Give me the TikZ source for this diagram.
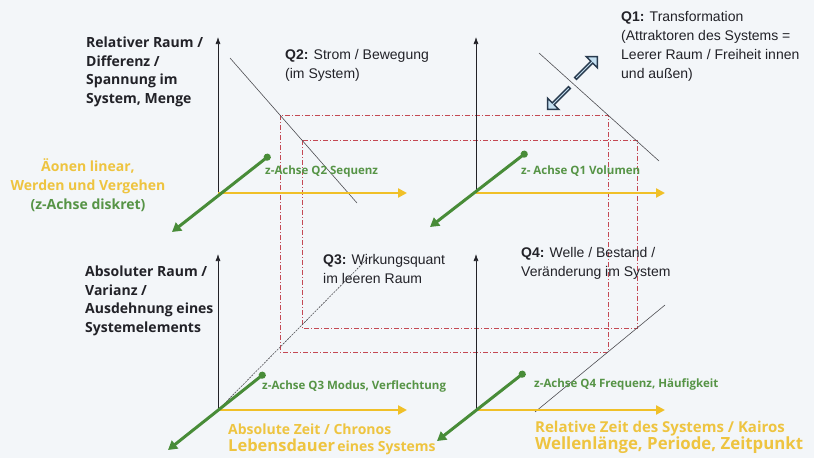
\documentclass[tikz,border=0pt]{standalone}
\usepackage{fontspec}
\setmainfont{Open Sans}
\newfontfamily\qfont{Liberation Sans}
\usetikzlibrary{calc,shapes.arrows,arrows.meta}
\definecolor{axisYellow}{RGB}{240,192,40}
\definecolor{textYellow}{RGB}{238,196,64}
\definecolor{axisGreen}{RGB}{72,140,56}
\definecolor{textGreen}{RGB}{86,148,70}
\definecolor{boxRed}{RGB}{196,72,84}
\definecolor{bgGray}{RGB}{243,246,249}
\definecolor{darkText}{RGB}{34,34,40}
\definecolor{arrowBlue}{RGB}{196,224,242}
\definecolor{arrowEdge}{RGB}{40,58,78}

\begin{document}
\begin{tikzpicture}[x=1pt,y=-1pt,
  axislabel/.style={anchor=north west,align=left,inner sep=0pt,text=darkText,
    font=\bfseries\fontsize{14}{18.5}\selectfont},
  qlabel/.style={anchor=north west,align=left,inner sep=0pt,text=darkText,
    font=\qfont\fontsize{14}{19}\selectfont},
  zlabel/.style={anchor=north west,inner sep=0pt,text=textGreen,
    font=\bfseries\fontsize{11.5}{13}\selectfont},
  timelabel/.style={anchor=north west,align=left,inner sep=0pt,text=textYellow,
    font=\bfseries\fontsize{14}{17}\selectfont},
  vaxis/.style={draw=darkText,line width=0.7pt,-{Latex[length=7pt,width=5pt]}},
  yaxis/.style={draw=axisYellow,line width=2.8pt,-{Triangle[length=9pt,width=9pt]}},
  zaxis/.style={draw=axisGreen,line width=3pt,{Circle[length=7pt]}-{Triangle[length=9pt,width=10pt]}},
  frame/.style={draw=boxRed,line width=0.6pt,dash pattern=on 5pt off 2pt on 1pt off 2pt},
  cut/.style={draw=darkText!80,line width=0.6pt},
  blockarrow/.style={single arrow,draw=arrowEdge,fill=arrowBlue,line width=1.4pt,
    minimum height=31pt,minimum width=16pt,single arrow head extend=3.5pt,inner sep=0pt}]

  \fill[bgGray] (0,0) rectangle (814,458);
  \useasboundingbox (0,0) rectangle (814,458);

  %% dash-dotted frames of the system
  \draw[frame] (280,115) rectangle (608,352);
  \draw[frame] (302,140) rectangle (637,328);

  %% cutting lines
  \coordinate (CutTLa) at (230,58);  \coordinate (CutTLb) at (357,203);
  \coordinate (CutTRa) at (539,53);  \coordinate (CutTRb) at (659,161);
  \coordinate (CutBLa) at (222,406); \coordinate (CutBLb) at (368,258);
  \coordinate (CutBRa) at (535,412); \coordinate (CutBRb) at (665,305);
  \draw[cut] (CutTLa) -- (CutTLb);
  \draw[cut] (CutTRa) -- (CutTRb);
  \draw[cut,dash pattern=on 2pt off 1pt] (CutBLa) -- (CutBLb);
  \draw[cut] (CutBRa) -- (CutBRb);

  %% the four axis systems
  \foreach \q/\ox/\oy/\dx/\dy/\tx/\ty in {Q2/218/193/270/155/172/232,
      Q1/476/193/527/152/430/227, Q3/218/410/265/373/168/450,
      Q4/476/410/525/372/437/441}
  {
    \coordinate (O\q) at (\ox,\oy);
    \coordinate (Y\q) at ($(O\q)+(0,-156)$);
    \coordinate (X\q) at ($(O\q)+(189,0)$);
    \coordinate (D\q) at (\dx,\dy);
    \coordinate (T\q) at (\tx,\ty);
    \draw[vaxis] (O\q) -- (Y\q);
    \draw[yaxis] (O\q) -- (X\q);
    \draw[zaxis] (D\q) -- (T\q);
  }

  %% transformation arrows
  \node[blockarrow,rotate=45] (OutArrow) at (586,68) {};
  \node[blockarrow,rotate=225] (InArrow) at (559,98) {};

  %% labels of the vertical axes
  \node[axislabel] (RelRaum) at (86,37)
    {Relativer Raum /\\Differenz /\\Spannung im\\System, Menge};
  \node[axislabel] (AbsRaum) at (85,266)
    {Absoluter Raum /\\Varianz /\\Ausdehnung eines\\Systemelements};

  %% label of the z-axis
  \node[anchor=north,align=center,inner sep=0pt,font=\bfseries\fontsize{14}{19}\selectfont]
    (Aeonen) at (88,158)
    {\textcolor{textYellow}{Äonen linear,}\\\textcolor{textYellow}{Werden und Vergehen}\\
     \textcolor{textGreen}{(z-Achse diskret)}};

  %% quadrant labels
  \node[qlabel] (Q2text) at (285,49) {\textbf{Q2:} Strom / Bewegung\\(im System)};
  \node[qlabel] (Q1text) at (621,11)
    {\textbf{Q1:} Transformation\\(Attraktoren des Systems =\\Leerer Raum / Freiheit innen\\und außen)};
  \node[qlabel] (Q3text) at (323,254) {\textbf{Q3:} Wirkungsquant\\im leeren Raum};
  \node[qlabel] (Q4text) at (521,247) {\textbf{Q4:} Welle / Bestand /\\Veränderung im System};

  %% z-axis labels
  \node[zlabel] (Z2) at (265,166) {z-Achse Q2 Sequenz};
  \node[zlabel] (Z1) at (521,166) {z- Achse Q1 Volumen};
  \node[zlabel] (Z3) at (262,380) {z-Achse Q3 Modus, Verflechtung};
  \node[zlabel] (Z4) at (534,378) {z-Achse Q4 Frequenz, Häufigkeit};

  %% time axis labels
  \node[timelabel] (AbsZeit) at (228,424)
    {Absolute Zeit / Chronos\\{\fontsize{16.5}{17}\selectfont Lebensdauer}\,{\fontsize{14}{17}\selectfont eines Systems}};
  \node[timelabel,font=\bfseries\fontsize{15}{17}\selectfont] (RelZeit) at (535,421)
    {Relative Zeit des Systems / Kairos\\{\fontsize{16.8}{18}\selectfont Wellenlänge, Periode, Zeitpunkt}};

\end{tikzpicture}
\end{document}
